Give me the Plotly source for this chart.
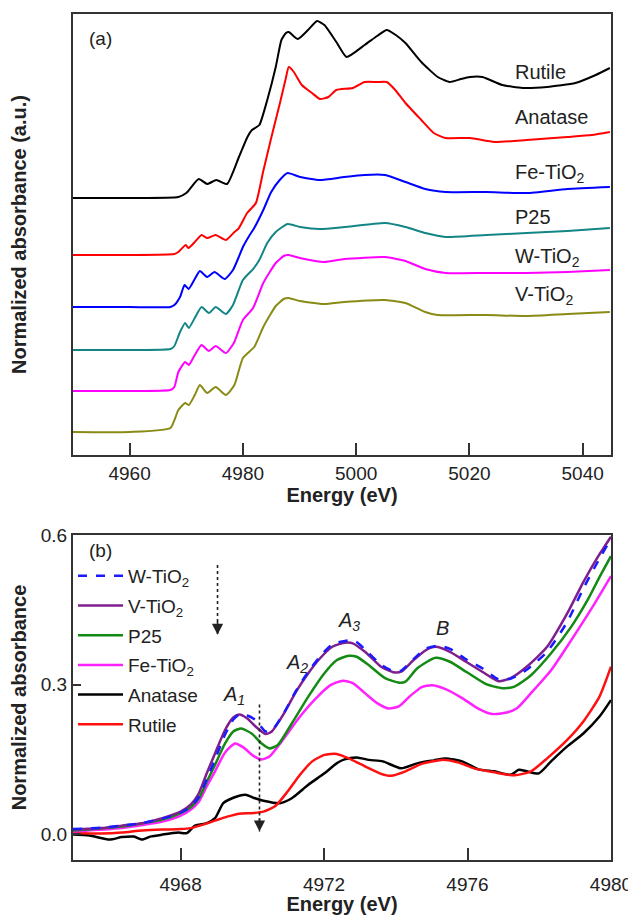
import plotly.graph_objects as go

# ---------------- Panel (a): offset Ti K-edge spectra (a.u.) ----------------
a_rutile_E = [4950, 4960, 4968.6, 4970.0, 4972.2, 4973.7, 4975.3, 4977.2, 4979.3, 4980.8,
              4981.6, 4982.9, 4984.3, 4985.8, 4986.8, 4987.6, 4988.1, 4989.7, 4991.5, 4993.1,
              4994.4, 4996.5, 4998.3, 5001.5, 5003.7, 5005.4, 5007.0, 5008.7, 5011.5, 5014.4,
              5016.5, 5018.5, 5020.1, 5022.3, 5025.8, 5029.4, 5033.7, 5038.7, 5042.3, 5044.8]
a_rutile_y = [2.57, 2.57, 2.58, 2.62, 2.76, 2.71, 2.75, 2.71, 2.98, 3.18,
              3.25, 3.30, 3.55, 3.88, 4.15, 4.22, 4.23, 4.16, 4.25, 4.34,
              4.30, 4.13, 3.98, 4.10, 4.19, 4.25, 4.20, 4.12, 3.93, 3.78,
              3.73, 3.76, 3.78, 3.78, 3.70, 3.67, 3.68, 3.72, 3.80, 3.87]

a_anatase_E = [4950, 4960, 4967.9, 4968.6, 4969.9, 4970.4, 4971.5, 4972.7, 4973.7, 4975.2,
               4977.0, 4978.5, 4979.3, 4980.75, 4982.3, 4983.6, 4985.0, 4986.5, 4987.55, 4988.1,
               4989.0, 4990.4, 4992.2, 4993.6, 4995.1, 4996.5, 4999.4, 5001.5, 5003.7, 5005.4,
               5006.9, 5008.7, 5011.5, 5013.7, 5015.8, 5020.1, 5024.4, 5030.1, 5037.3, 5041.6, 5044.8]
a_anatase_y = [2.00, 2.00, 2.01, 2.03, 2.10, 2.07, 2.13, 2.20, 2.17, 2.20,
               2.15, 2.23, 2.27, 2.42, 2.52, 2.84, 3.17, 3.51, 3.76, 3.88,
               3.83, 3.70, 3.62, 3.56, 3.58, 3.65, 3.67, 3.73, 3.73, 3.73,
               3.65, 3.52, 3.35, 3.22, 3.17, 3.17, 3.13, 3.15, 3.18, 3.20, 3.23]

a_fe_E = [4950, 4960, 4967.2, 4967.9, 4968.9, 4969.7, 4970.4, 4971.5, 4972.4, 4973.7,
          4975.0, 4976.8, 4978.25, 4979.2, 4980.0, 4981.1, 4982.0, 4983.6, 4985.0, 4986.5,
          4987.9, 4990.1, 4993.6, 4997.9, 5001.5, 5005.1, 5008.7, 5012.2, 5015.8, 5023.0,
          5030.1, 5037.3, 5044.8]
a_fe_y = [1.48, 1.48, 1.48, 1.50, 1.58, 1.70, 1.66, 1.76, 1.84, 1.78,
          1.83, 1.76, 1.85, 1.97, 2.08, 2.19, 2.27, 2.45, 2.63, 2.75,
          2.82, 2.78, 2.75, 2.78, 2.80, 2.80, 2.73, 2.66, 2.63, 2.63,
          2.62, 2.66, 2.68]

a_p25_E = [4950, 4960, 4967.2, 4967.9, 4968.9, 4969.8, 4970.45, 4971.5, 4972.7, 4974.0,
           4975.2, 4977.0, 4978.25, 4980.0, 4981.8, 4982.9, 4984.3, 4985.8, 4987.9, 4990.1,
           4993.6, 4997.9, 5005.1, 5008.7, 5012.2, 5015.8, 5023.0, 5030.1, 5037.3, 5044.8]
a_p25_y = [1.05, 1.05, 1.06, 1.09, 1.23, 1.32, 1.27, 1.37, 1.48, 1.42,
           1.48, 1.41, 1.50, 1.75, 1.86, 1.95, 2.12, 2.23, 2.31, 2.28,
           2.26, 2.28, 2.32, 2.28, 2.22, 2.18, 2.20, 2.22, 2.24, 2.27]

a_w_E = [4950, 4960, 4967.2, 4967.9, 4968.6, 4969.8, 4970.45, 4971.5, 4972.7, 4974.0,
         4975.2, 4977.0, 4978.4, 4980.0, 4981.8, 4983.6, 4985.8, 4987.2, 4988.05, 4990.05,
         4994.35, 4997.9, 5005.1, 5008.7, 5012.2, 5015.8, 5023.0, 5030.1, 5037.3, 5044.8]
a_w_y = [0.64, 0.64, 0.65, 0.68, 0.83, 0.93, 0.90, 1.00, 1.10, 1.04,
         1.09, 1.02, 1.12, 1.35, 1.47, 1.72, 1.92, 1.99, 2.00, 1.97,
         1.93, 1.96, 1.98, 1.94, 1.86, 1.82, 1.82, 1.82, 1.83, 1.85]

a_v_E = [4950, 4960, 4967.2, 4968.6, 4969.8, 4970.45, 4971.5, 4972.4, 4973.7, 4975.2,
         4977.0, 4978.5, 4980.0, 4982.0, 4983.6, 4985.8, 4987.2, 4988.05, 4990.05, 4994.35,
         4997.9, 5005.1, 5008.7, 5012.2, 5014.4, 5023.0, 5030.1, 5037.3, 5044.8]
a_v_y = [0.23, 0.23, 0.27, 0.45, 0.52, 0.50, 0.60, 0.70, 0.62, 0.68,
         0.60, 0.70, 0.97, 1.08, 1.28, 1.49, 1.56, 1.57, 1.54, 1.51,
         1.53, 1.55, 1.52, 1.43, 1.40, 1.40, 1.39, 1.41, 1.43]

a_names = ["Rutile", "Anatase", "Fe-TiO<sub>2</sub>", "P25", "W-TiO<sub>2</sub>", "V-TiO<sub>2</sub>"]
a_label_y = [3.83, 3.38, 2.82, 2.38, 1.98, 1.60]
a_xticks = [4960, 4980, 5000, 5020, 5040]

# ---------------- Panel (b): pre-edge region ----------------
b_w_E = [4965.0, 4965.8, 4966.36, 4966.93, 4967.49, 4968.0, 4968.28, 4968.51, 4968.73, 4968.96,
         4969.24, 4969.47, 4969.64, 4969.86, 4970.09, 4970.37, 4970.54, 4970.88, 4971.22, 4971.56,
         4971.89, 4972.23, 4972.69, 4972.9, 4973.14, 4973.59, 4973.93, 4974.15, 4974.49, 4974.83,
         4975.17, 4975.51, 4975.96, 4976.41, 4976.86, 4977.2, 4977.65, 4978.22, 4978.78, 4979.23,
         4979.68, 4980.0]
b_w_y = [0.010, 0.013, 0.017, 0.022, 0.031, 0.043, 0.055, 0.075, 0.110, 0.150,
         0.200, 0.230, 0.240, 0.238, 0.229, 0.206, 0.208, 0.243, 0.288, 0.326,
         0.357, 0.381, 0.389, 0.386, 0.371, 0.340, 0.327, 0.328, 0.351, 0.372,
         0.378, 0.372, 0.351, 0.333, 0.311, 0.312, 0.330, 0.366, 0.426, 0.493,
         0.553, 0.593]

b_v_E = [4965.0, 4965.8, 4966.36, 4966.93, 4967.49, 4968.0, 4968.28, 4968.51, 4968.73, 4968.96,
         4969.24, 4969.47, 4969.64, 4969.86, 4970.09, 4970.37, 4970.54, 4970.88, 4971.22, 4971.56,
         4971.89, 4972.23, 4972.57, 4972.8, 4973.14, 4973.59, 4973.93, 4974.15, 4974.49, 4974.83,
         4975.11, 4975.51, 4975.96, 4976.41, 4976.86, 4977.2, 4977.65, 4978.22, 4978.78, 4979.23,
         4979.63, 4980.0]
b_v_y = [0.009, 0.012, 0.017, 0.022, 0.032, 0.045, 0.059, 0.082, 0.122, 0.162,
         0.209, 0.234, 0.240, 0.232, 0.216, 0.201, 0.206, 0.242, 0.286, 0.323,
         0.353, 0.376, 0.384, 0.383, 0.366, 0.336, 0.325, 0.326, 0.349, 0.369,
         0.376, 0.366, 0.346, 0.326, 0.307, 0.313, 0.336, 0.376, 0.443, 0.506,
         0.556, 0.597]

b_p25_E = [4965.0, 4966.36, 4967.49, 4968.0, 4968.28, 4968.51, 4968.73, 4968.96, 4969.24, 4969.47,
           4969.69, 4969.98, 4970.26, 4970.48, 4970.71, 4971.1, 4971.56, 4972.01, 4972.35, 4972.69,
           4972.91, 4973.25, 4973.7, 4974.1, 4974.27, 4974.6, 4975.11, 4975.51, 4975.96, 4976.52,
           4976.97, 4977.31, 4977.77, 4978.33, 4978.89, 4979.35, 4979.68, 4980.0]
b_p25_y = [0.007, 0.015, 0.029, 0.042, 0.054, 0.072, 0.105, 0.139, 0.182, 0.206,
           0.212, 0.202, 0.182, 0.172, 0.179, 0.222, 0.276, 0.323, 0.349, 0.358,
           0.356, 0.339, 0.313, 0.304, 0.306, 0.333, 0.354, 0.346, 0.326, 0.301,
           0.293, 0.296, 0.319, 0.363, 0.416, 0.470, 0.516, 0.558]

b_fe_E = [4965.0, 4966.36, 4967.49, 4968.0, 4968.28, 4968.51, 4968.73, 4968.96, 4969.24, 4969.52,
          4969.75, 4970.03, 4970.26, 4970.48, 4970.88, 4971.33, 4971.78, 4972.18, 4972.52, 4972.8,
          4973.14, 4973.48, 4973.81, 4974.1, 4974.38, 4974.55, 4974.72, 4975.0, 4975.39, 4975.85,
          4976.3, 4976.69, 4977.09, 4977.37, 4977.77, 4978.33, 4978.89, 4979.46, 4980.0]
b_fe_y = [0.005, 0.012, 0.025, 0.037, 0.049, 0.065, 0.096, 0.126, 0.164, 0.182,
          0.174, 0.157, 0.150, 0.156, 0.192, 0.236, 0.273, 0.299, 0.308, 0.303,
          0.283, 0.263, 0.252, 0.257, 0.276, 0.286, 0.295, 0.299, 0.291, 0.273,
          0.252, 0.241, 0.244, 0.252, 0.283, 0.329, 0.389, 0.453, 0.518]

b_an_E = [4965.0, 4965.46, 4966.02, 4966.36, 4966.7, 4966.93, 4967.15, 4967.49, 4967.94, 4968.17,
          4968.4, 4968.73, 4968.96, 4969.19, 4969.47, 4969.81, 4970.03, 4970.31, 4970.77, 4971.1,
          4971.56, 4972.01, 4972.35, 4972.57, 4972.91, 4973.25, 4973.64, 4974.15, 4974.6, 4975.06,
          4975.39, 4975.85, 4976.3, 4976.75, 4977.2, 4977.43, 4977.65, 4977.99, 4978.33, 4978.78,
          4979.23, 4979.68, 4980.0]
b_an_y = [-0.001, -0.003, -0.011, -0.006, -0.005, -0.011, -0.005, -0.001, 0.003, 0.002,
          0.017, 0.022, 0.032, 0.062, 0.073, 0.079, 0.073, 0.067, 0.062, 0.072,
          0.099, 0.122, 0.142, 0.150, 0.154, 0.149, 0.146, 0.132, 0.142, 0.148,
          0.152, 0.146, 0.130, 0.126, 0.119, 0.129, 0.126, 0.122, 0.146, 0.176,
          0.202, 0.236, 0.269]

b_ru_E = [4965.0, 4965.8, 4966.36, 4966.93, 4967.49, 4968.0, 4968.28, 4968.62, 4968.96, 4969.3,
          4969.64, 4969.98, 4970.31, 4970.65, 4970.99, 4971.33, 4971.67, 4972.01, 4972.35, 4972.69,
          4973.14, 4973.59, 4973.87, 4974.27, 4974.72, 4975.28, 4975.73, 4976.18, 4976.75, 4977.31,
          4977.77, 4978.22, 4978.78, 4979.23, 4979.68, 4980.0]
b_ru_y = [0.002, 0.001, 0.003, 0.007, 0.009, 0.010, 0.012, 0.019, 0.027, 0.035,
          0.041, 0.042, 0.045, 0.057, 0.086, 0.119, 0.146, 0.159, 0.161, 0.152,
          0.136, 0.121, 0.117, 0.126, 0.141, 0.149, 0.144, 0.132, 0.124, 0.118,
          0.126, 0.152, 0.189, 0.226, 0.276, 0.336]

b_peak_labels = ["<i>A</i><sub><i>1</i></sub>", "<i>A</i><sub><i>2</i></sub>",
                 "<i>A</i><sub><i>3</i></sub>", "<i>B</i>"]
b_peak_E = [4969.5, 4971.25, 4972.7, 4975.3]
b_peak_y = [0.279, 0.343, 0.426, 0.414]
arrow1_E = [4969.03, 4969.03]
arrow1_y = [0.54, 0.40]
arrow2_E = [4970.2, 4970.2]
arrow2_y = [0.26, 0.005]
b_yticks = [0.0, 0.3, 0.6]
b_xticks = [4968, 4972, 4976, 4980]

FONT = "Liberation Sans, Arial, sans-serif"
TXT = "#222222"
AX = "#333333"

fig = go.Figure()

a_series = [(a_rutile_E, a_rutile_y, "#000000"),
            (a_anatase_E, a_anatase_y, "#ff0000"),
            (a_fe_E, a_fe_y, "#0000ff"),
            (a_p25_E, a_p25_y, "#138585"),
            (a_w_E, a_w_y, "#ff00ff"),
            (a_v_E, a_v_y, "#8a8a17")]
for (ex, ey, col), nm in zip(a_series, a_names):
    fig.add_trace(go.Scatter(x=ex, y=ey, mode="lines", name=nm, showlegend=False,
                             line=dict(color=col, width=2, shape="spline", smoothing=0.5),
                             xaxis="x", yaxis="y"))

b_series = [(b_w_E, b_w_y, "W-TiO<sub>2</sub>", "#1a1aff", "dash"),
            (b_v_E, b_v_y, "V-TiO<sub>2</sub>", "#7f1f8f", "solid"),
            (b_p25_E, b_p25_y, "P25", "#138a13", "solid"),
            (b_fe_E, b_fe_y, "Fe-TiO<sub>2</sub>", "#ff22ff", "solid"),
            (b_an_E, b_an_y, "Anatase", "#000000", "solid"),
            (b_ru_E, b_ru_y, "Rutile", "#ff1010", "solid")]
order = [4, 5, 3, 2, 1, 0]
for i in order:
    ex, ey, nm, col, dash = b_series[i]
    fig.add_trace(go.Scatter(x=ex, y=ey, mode="lines", name=nm, legendrank=i + 1,
                             legendgroup=f"g{i}",
                             line=dict(color=col, width=2.5, dash=dash, shape="spline", smoothing=0.6),
                             xaxis="x2", yaxis="y2"))

for ax_E, ax_y in [(arrow1_E, arrow1_y), (arrow2_E, arrow2_y)]:
    fig.add_trace(go.Scatter(x=ax_E, y=ax_y, mode="lines", showlegend=False, hoverinfo="skip",
                             line=dict(color="#222222", width=1.6, dash="dot"),
                             xaxis="x2", yaxis="y2"))
    fig.add_annotation(x=ax_E[1], y=ax_y[1], ax=ax_E[1], ay=ax_y[1] + 0.03,
                       xref="x2", yref="y2", axref="x2", ayref="y2",
                       showarrow=True, arrowhead=2, arrowsize=1.4, arrowwidth=1.6,
                       arrowcolor="#222222", text="")

annots = []
for nm, ly in zip(a_names, a_label_y):
    annots.append(dict(x=5027.7, y=ly, xref="x", yref="y", text=nm, showarrow=False,
                       xanchor="left", yanchor="middle", font=dict(size=20, color=TXT, family=FONT)))
annots.append(dict(x=4952.4, y=4.17, xref="x", yref="y", text="(a)", showarrow=False,
                   xanchor="left", yanchor="middle", font=dict(size=19, color=TXT, family=FONT)))
annots.append(dict(x=4965.4, y=0.57, xref="x2", yref="y2", text="(b)", showarrow=False,
                   xanchor="left", yanchor="middle", font=dict(size=19, color=TXT, family=FONT)))
for t, ex, ey in zip(b_peak_labels, b_peak_E, b_peak_y):
    annots.append(dict(x=ex, y=ey, xref="x2", yref="y2", text=t, showarrow=False,
                       xanchor="center", yanchor="middle", font=dict(size=20, color=TXT, family=FONT)))
for a in annots:
    fig.add_annotation(**a)

axis_common = dict(showline=True, linecolor=AX, linewidth=2, mirror=True, ticks="inside",
                   tickcolor=AX, tickwidth=1.5, showgrid=False, zeroline=False, automargin=False,
                   tickfont=dict(size=19, color=TXT, family=FONT))
TITLE_FONT = dict(size=20, color=TXT, family=FONT)

# the page body adds an 8 px offset, so the figure is 8 px smaller and margins compensate
fig.update_layout(
    width=628, height=907,
    margin=dict(l=65, r=25, t=6, b=55),
    paper_bgcolor="white", plot_bgcolor="white",
    font=dict(family=FONT, color=TXT),
    xaxis=dict(domain=[0, 1], range=[4950, 5045], tickvals=a_xticks, ticklen=12,
               ticklabelstandoff=0, anchor="y",
               title=dict(text="<b>Energy (eV)</b>", font=TITLE_FONT, standoff=2),
               **axis_common),
    yaxis=dict(domain=[0.4787, 1.0], range=[0, 4.41], showticklabels=False, tickvals=[], anchor="x",
               title=dict(text="<b>Normalized absorbance (a.u.)</b>", font=TITLE_FONT, standoff=39),
               **axis_common),
    xaxis2=dict(domain=[0, 1], range=[4965, 4980.001], tickvals=b_xticks, ticklen=12,
                ticklabelstandoff=6, anchor="y2",
                title=dict(text="<b>Energy (eV)</b>", font=TITLE_FONT, standoff=8),
                **axis_common),
    yaxis2=dict(domain=[0, 0.3842], range=[-0.052, 0.6005], tickvals=b_yticks, tickformat=".1f",
                ticklen=8, anchor="x2",
                title=dict(text="<b>Normalized absorbance</b>", font=TITLE_FONT, standoff=9),
                **axis_common),
    legend=dict(x=0.0, y=0.3582, xanchor="left", yanchor="top", bgcolor="rgba(0,0,0,0)",
                font=dict(size=19, color=TXT, family=FONT), itemwidth=45, tracegroupgap=2,
                traceorder="grouped"),
    showlegend=True,
)

fig.write_html("out.html")
